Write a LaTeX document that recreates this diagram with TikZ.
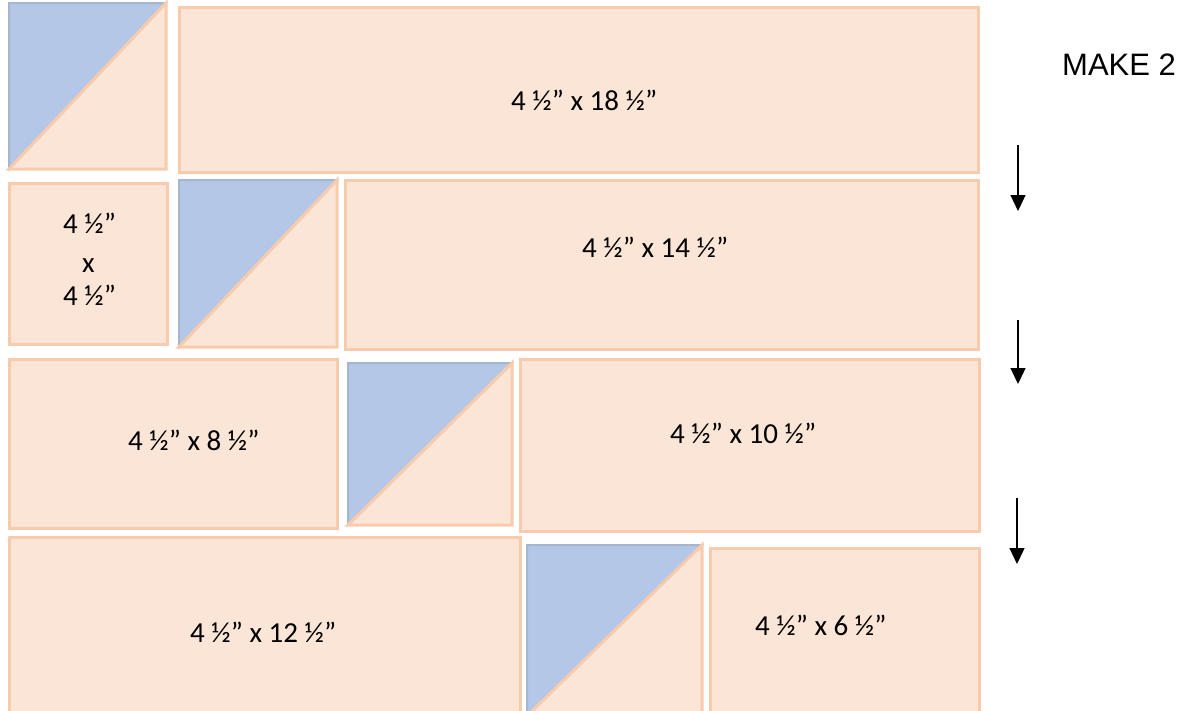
\documentclass[tikz,border=0pt]{standalone}
\usepackage{fontspec}
\setmainfont{Carlito}
\newfontfamily\arialfont{Liberation Sans}
\usetikzlibrary{arrows.meta}
\definecolor{peach}{HTML}{FBE5D6}
\definecolor{peachline}{HTML}{F8CBAD}
\definecolor{bluefill}{HTML}{B4C7E7}
\definecolor{blueline}{HTML}{A7B6D0}
\tikzset{
  piece/.style={fill=peach, draw=peachline, line width=3pt},
  bluetri/.style={fill=bluefill, draw=blueline, line width=2pt, line join=miter},
  lbl/.style={inner sep=0pt, anchor=base west, font=\fontsize{29}{33}\selectfont},
  downarrow/.style={line width=1.3pt, -{Triangle[width=15pt,length=16pt]}}
}
\newcommand{\hst}[4]{% x1 y1 x2 y2 half-square triangle block
  \fill[peach] (#1,#2) rectangle (#3,#4);
  \draw[bluetri] (#1,#4) -- (#1,#2) -- (#3,#2) -- cycle;
  \draw[piece, fill=none, line join=miter] (#3,#2) -- (#3,#4) -- (#1,#4) -- cycle;
}
\begin{document}
\begin{tikzpicture}[x=1pt,y=-1pt]
\useasboundingbox (0,0) rectangle (1185,710);
\clip (0,0) rectangle (1185,710);
% row 1
\hst{9}{3}{166}{169}
\draw[piece] (179,7) rectangle (978,172);
% row 2
\draw[piece] (9,183) rectangle (167,344);
\hst{179}{180}{337}{347}
\draw[piece] (345,180) rectangle (978,349);
% row 3
\draw[piece] (9,359) rectangle (337,528);
\hst{348}{363}{512}{525}
\draw[piece] (520,359) rectangle (979,531);
% row 4
\draw[piece] (9,537) rectangle (520,716);
\hst{527}{545}{702}{716}
\draw[piece] (710,548) rectangle (979,716);
% labels
\node[lbl] (t18) at (511,110) {4 ½” x 18 ½”};
\node[lbl] (t14) at (582,257) {4 ½” x 14 ½”};
\node[lbl] (sqa) at (63,233) {4 ½”};
\node[lbl] (sqx) at (82,272) {x};
\node[lbl] (sqb) at (63,305) {4 ½”};
\node[lbl] (t8) at (128,450) {4 ½” x 8 ½”};
\node[lbl] (t10) at (670,443) {4 ½” x 10 ½”};
\node[lbl] (t12) at (190,642) {4 ½” x 12 ½”};
\node[lbl] (t6) at (755,635) {4 ½” x 6 ½”};
\node[inner sep=0pt, anchor=base west, font=\arialfont\fontsize{31}{35}\selectfont] (make) at (1062,75) {MAKE 2};
% arrows
\coordinate (a1s) at (1018,145); \coordinate (a1e) at (1018,211);
\coordinate (a2s) at (1018,320); \coordinate (a2e) at (1018,384);
\coordinate (a3s) at (1017,498); \coordinate (a3e) at (1017,564);
\draw[downarrow] (a1s) -- (a1e);
\draw[downarrow] (a2s) -- (a2e);
\draw[downarrow] (a3s) -- (a3e);
\end{tikzpicture}
\end{document}
